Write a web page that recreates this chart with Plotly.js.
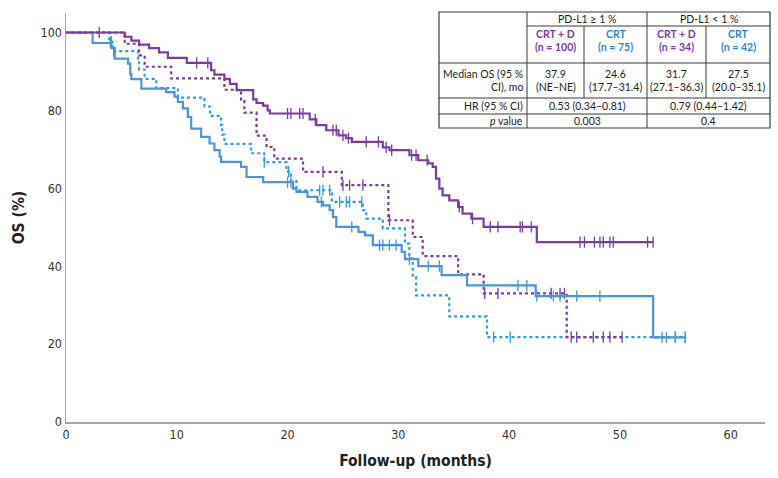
<!DOCTYPE html>
<html>
<head>
<meta charset="utf-8">
<script src="https://cdn.plot.ly/plotly-3.0.1.min.js"></script>
<style>
  html, body { margin: 0; padding: 0; background: #fff; }
  #chart { width: 778px; height: 478px; }
</style>
</head>
<body>
<div id="chart"></div>
<script>
/* ---------------------------------------------------------------- */
/* DATA                             */
/* ---------------------------------------------------------------- */
// PD-L1 >= 1 %, CRT + D (n = 100)
var crtdHighTime = [0, 5.3, 5.9, 6.6, 7.5, 8.4, 9.2, 10.9, 13.1, 13.4, 14.3, 14.8, 15.4, 16.9, 17.2, 17.8, 18.2, 18.4,
  22.0, 22.6, 23.5, 24.6, 25.3, 25.8, 28.6, 29.2, 31.0, 31.8, 32.7, 33.1, 33.4, 33.7, 34.0, 34.6, 35.4, 35.8, 36.6, 37.7, 42.5];
var crtdHighSurv = [100, 98.9, 97.9, 96.9, 96.0, 94.9, 93.5, 92.2, 90.3, 89.2, 88.0, 86.8, 85.2, 82.8, 81.9, 81.2, 80.0, 79.2,
  77.7, 76.2, 74.9, 73.6, 72.9, 71.9, 70.5, 69.8, 68.5, 67.2, 66.4, 65.5, 62.5, 59.9, 58.2, 56.9, 55.2, 53.5, 52.2, 50.1, 46.2];
var crtdHighCens = [3.0, 11.8, 12.8, 20.0, 20.3, 21.1, 21.4, 22.5, 24.1, 24.4, 25.0, 25.5, 27.1, 28.2, 28.9, 29.4, 31.2, 31.6,
  32.6, 35.5, 36.7, 38.3, 39.0, 41.0, 41.2, 42.0, 46.4, 46.8, 47.7, 48.2, 48.5, 49.1, 49.4, 52.5, 53.0];

// PD-L1 >= 1 %, CRT (n = 75)
var crtHighTime = [0, 2.4, 4.1, 4.4, 5.6, 5.8, 5.9, 6.8, 9.05, 9.8, 10.1, 10.55, 11.0, 11.3, 12.2, 12.96, 13.4, 13.87, 14.0,
  15.8, 16.3, 17.8, 20.5, 20.8, 21.8, 22.7, 23.2, 23.8, 24.1, 24.4, 26.4, 27.0, 27.7, 30.3, 30.6, 31.8, 33.9, 36.2, 42.4, 53.0];
var crtHighSurv = [100, 97.3, 96.0, 93.3, 92.0, 89.3, 88.0, 85.6, 84.7, 83.5, 82.2, 80.5, 78.3, 75.3, 73.2, 71.5, 69.8, 68.1, 66.8,
  65.5, 62.9, 61.6, 59.9, 59.1, 57.8, 56.5, 55.6, 54.4, 52.6, 50.1, 48.8, 47.9, 45.4, 43.7, 41.8, 40.0, 37.7, 35.1, 32.3, 21.7];
var crtHighCens = [20.0, 20.3, 23.05, 25.8, 28.3, 28.6, 29.2, 29.8, 31.0, 32.7, 33.7, 40.8, 41.6, 42.5, 44.0, 44.6, 46.1, 48.2,
  53.8, 54.2, 55.0, 55.9];

// PD-L1 < 1 %, CRT + D (n = 34)
var crtdLowTime = [0, 5.3, 6.6, 7.1, 9.5, 14.3, 15.8, 16.1, 17.2, 18.1, 18.8, 21.4, 24.9, 29.1, 31.3, 32.2, 35.4, 37.7, 45.2];
var crtdLowSurv = [100, 97.1, 94.1, 91.2, 88.2, 85.3, 82.4, 79.4, 73.5, 70.6, 67.6, 64.2, 60.8, 51.8, 47.5, 42.6, 37.9, 33.0, 21.8];
var crtdLowCens = [23.2, 25.0, 25.6, 26.8, 29.2, 37.8, 39.0, 43.8, 44.6, 45.0, 45.6, 46.1, 47.6, 48.5, 49.1, 50.2];

// PD-L1 < 1 %, CRT (n = 42)
var crtLowTime = [0, 3.9, 4.2, 6.5, 6.6, 7.1, 8.15, 10.1, 12.5, 13.0, 14.0, 14.1, 14.3, 16.7, 17.9, 19.9, 20.3, 20.8, 24.0,
  26.8, 27.1, 28.6, 30.6, 31.0, 31.3, 31.6, 34.6, 38.0];
var crtLowSurv = [100, 97.6, 95.2, 92.9, 90.5, 88.1, 85.7, 83.3, 81.0, 78.6, 76.2, 73.8, 71.4, 69.0, 66.7, 64.3, 61.9, 59.5, 56.5,
  54.4, 52.2, 49.7, 45.8, 42.0, 37.2, 32.5, 27.1, 21.8];
var crtLowCens = [4.0, 4.1, 4.3, 17.9, 20.1, 22.9, 23.2, 23.8, 24.7, 25.3, 25.6, 26.7, 38.6, 40.1, 55.0, 55.9];

// table texts
var groupLabels = ['PD-L1 \u2265 1 %', 'PD-L1 < 1 %'];
var armLabels = ['CRT + D', 'CRT', 'CRT + D', 'CRT'];
var armN = ['(n = 100)', '(n = 75)', '(n = 34)', '(n = 42)'];
var medianOS = ['37.9', '24.6', '31.7', '27.5'];
var medianCI = ['(NE\u2013NE)', '(17.7\u201331.4)', '(27.1\u201336.3)', '(20.0\u201335.1)'];
var hrText = ['0.53 (0.34\u20130.81)', '0.79 (0.44\u20131.42)'];
var pText = ['0.003', '0.4'];

var xTicks = [0, 10, 20, 30, 40, 50, 60];
var yTicks = [0, 20, 40, 60, 80, 100];

/* ---------------------------------------------------------------- */
var PURPLE = '#7a3d9e';
var BLUE = '#4e93de';
var LIGHTBLUE = '#2a9fe6';

function survAt(times, surv, t) {
  var s = surv[0];
  for (var i = 0; i < times.length; i++) { if (times[i] <= t) s = surv[i]; }
  return s;
}

function kmTraces(times, surv, cens, color, dash) {
  var end = Math.max.apply(null, cens);
  var line = {
    x: times.concat([end]), y: surv.concat([surv[surv.length - 1]]),
    type: 'scatter', mode: 'lines', line: {shape: 'hv', color: color, width: 2.2, dash: dash},
    hoverinfo: 'skip', showlegend: false
  };
  var marks = {
    x: cens, y: cens.map(function (t) { return survAt(times, surv, t); }),
    type: 'scatter', mode: 'markers',
    marker: {symbol: 'line-ns-open', size: 8, color: color, line: {color: color, width: 1.3}},
    hoverinfo: 'skip', showlegend: false
  };
  return [line, marks];
}

var traces = [].concat(
  kmTraces(crtLowTime, crtLowSurv, crtLowCens, LIGHTBLUE, 'dot'),
  kmTraces(crtdLowTime, crtdLowSurv, crtdLowCens, PURPLE, 'dot'),
  kmTraces(crtHighTime, crtHighSurv, crtHighCens, BLUE, 'solid'),
  kmTraces(crtdHighTime, crtdHighSurv, crtdHighCens, PURPLE, 'solid')
);

/* ---------------------------------------------------------------- */
/* TABLE drawn with shapes + annotations (pixel -> paper helpers)    */
/* ---------------------------------------------------------------- */
var M = {l: 66, r: 13, t: 13, b: 56};
var PW = 778 - M.l - M.r, PH = 478 - M.t - M.b;
function px(x) { return (x - M.l) / PW; }
function py(y) { return (478 - M.b - y) / PH; }

var tL = 439, tR = 770, tT = 12, tB = 128;
var c1 = 527, c2 = 584, c3 = 647, c4 = 706;
var r1 = 26, r2 = 63, r3 = 98, r4 = 114;
var lineCol = '#3a3a3a';

function seg(x0, y0, x1, y1) {
  return {type: 'line', xref: 'paper', yref: 'paper', x0: px(x0), y0: py(y0), x1: px(x1), y1: py(y1),
    line: {color: lineCol, width: 1}};
}
var shapes = [
  {type: 'rect', xref: 'paper', yref: 'paper', x0: px(tL), x1: px(tR), y0: py(tB), y1: py(tT),
    fillcolor: '#fff', line: {color: lineCol, width: 1.2}, layer: 'above'},
  seg(c1, r1, tR, r1), seg(tL, r2, tR, r2), seg(tL, r3, tR, r3), seg(tL, r4, tR, r4),
  seg(c1, tT, c1, tB), seg(c3, tT, c3, tB), seg(c2, r1, c2, r3), seg(c4, r1, c4, r3)
];

var tfont = {family: 'Lato, "Open Sans", sans-serif', size: 10.5, color: '#222'};
function note(text, x, y, anchor, font) {
  return {text: text, xref: 'paper', yref: 'paper', x: px(x), y: py(y), xanchor: anchor || 'center',
    yanchor: 'middle', showarrow: false, font: font || tfont};
}
var colMid = [(c1 + c2) / 2, (c2 + c3) / 2, (c3 + c4) / 2, (c4 + tR) / 2];
var grpMid = [(c1 + c3) / 2, (c3 + tR) / 2];
var armColor = [PURPLE, '#2f86cf', PURPLE, '#2f86cf'];

var annotations = [];
groupLabels.forEach(function (g, i) { annotations.push(note(g, grpMid[i], 19)); });
armLabels.forEach(function (a, i) {
  var f = {family: tfont.family, size: tfont.size, color: armColor[i], weight: 'bold'};
  annotations.push(note('<b>' + a + '</b>', colMid[i], 34, 'center', f));
  annotations.push(note('<b>' + armN[i] + '</b>', colMid[i], 47, 'center', f));
});
annotations.push(note('Median OS (95 %', c1 - 2, 74, 'right'));
annotations.push(note('CI), mo', c1 - 2, 87, 'right'));
medianOS.forEach(function (m, i) {
  annotations.push(note(m, colMid[i], 74));
  annotations.push(note(medianCI[i], colMid[i], 87));
});
annotations.push(note('HR (95 % CI)', c1 - 2, 106, 'right'));
annotations.push(note('<i>p</i> value', c1 - 2, 121, 'right'));
hrText.forEach(function (h, i) { annotations.push(note(h, grpMid[i], 106)); });
pText.forEach(function (p, i) { annotations.push(note(p, grpMid[i], 121)); });

/* ---------------------------------------------------------------- */
var axFont = {family: '"DejaVu Sans Condensed", "DejaVu Sans", sans-serif', size: 12.5, color: '#333'};
var layout = {
  width: 778, height: 478,
  margin: M,
  paper_bgcolor: '#fff', plot_bgcolor: '#fff',
  showlegend: false,
  xaxis: {
    range: [0, 63.1], tickvals: xTicks, ticks: '', showgrid: false, zeroline: false,
    showline: true, linecolor: '#a6a6a6', linewidth: 1.5, tickfont: axFont,
    title: {text: '<b>Follow-up (months)</b>', standoff: 14,
      font: {family: axFont.family, size: 15.5, color: '#222'}}
  },
  yaxis: {
    range: [0, 105], tickvals: yTicks, ticks: '', showgrid: false, zeroline: false,
    showline: true, linecolor: '#a6a6a6', linewidth: 1.5, tickfont: axFont,
    title: {text: '<b>OS (%)</b>', standoff: 12,
      font: {family: axFont.family, size: 15.5, color: '#222'}}
  },
  shapes: shapes,
  annotations: annotations
};

Plotly.newPlot('chart', traces, layout, {displayModeBar: false, staticPlot: true});
</script>
</body>
</html>
